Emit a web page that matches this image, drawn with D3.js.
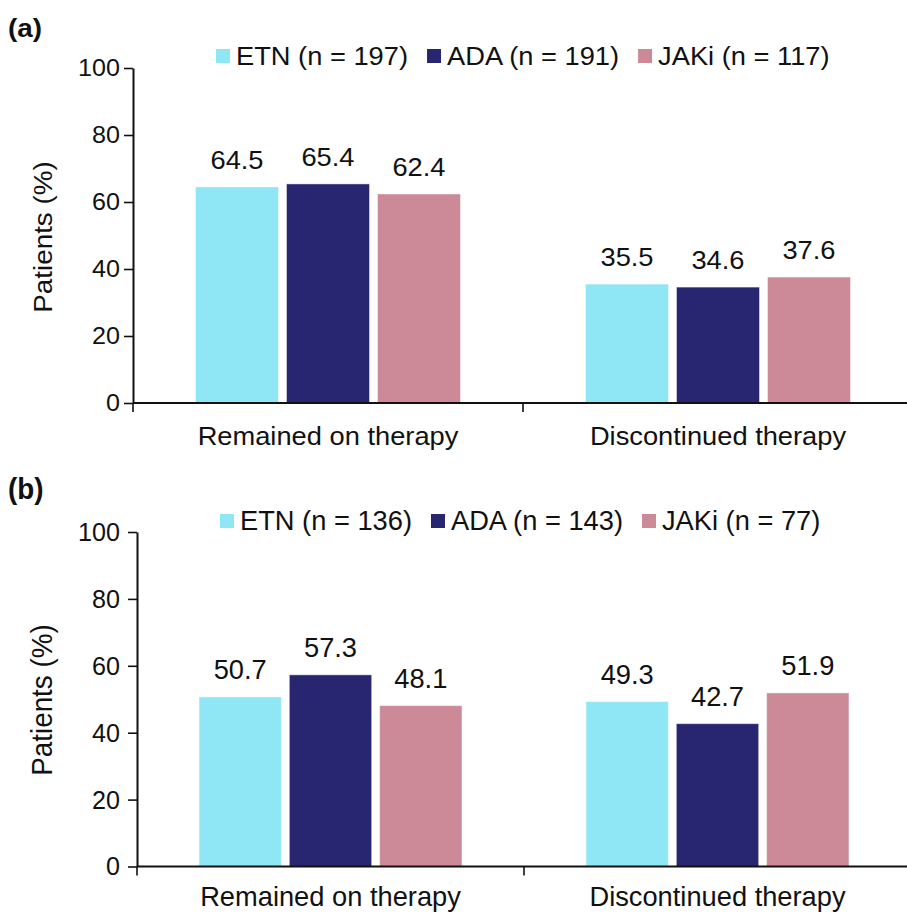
<!DOCTYPE html>
<html>
<head>
  <meta charset="utf-8">
  <title>Patients remaining on / discontinuing therapy</title>
  <style type="text/css">
    body { margin: 0; background: #fff; }
    svg { display: block; }
    text { font-family: "Liberation Sans", Arial, sans-serif; fill: #111; }
  </style>
</head>
<body>
  <script src="https://cdn.jsdelivr.net/npm/d3@7/dist/d3.min.js"></script>
  <script type="text/javascript">
    // data
    var categories = ["Remained on therapy", "Discontinued therapy"];
    var seriesNames = ["ETN", "ADA", "JAKi"];
    var colors = ["#8fe6f5", "#282670", "#cc8a98"];
    var yTicks = [0, 20, 40, 60, 80, 100];

    var nA = [197, 191, 117];
    var etnA = [64.5, 35.5];
    var adaA = [65.4, 34.6];
    var jakA = [62.4, 37.6];

    var nB = [136, 143, 77];
    var etnB = [50.7, 49.3];
    var adaB = [57.3, 42.7];
    var jakB = [48.1, 51.9];

    var w = 907, h = 914;
    var sx = 1.07;  // glyphs in the source are a bit wider than Arial

    var svg = d3.select("body").append("svg")
      .attr("width", w)
      .attr("height", h);

    // text helper: position + stretch
    function txt(g, x, y, s, size, sy, anchor) {
      return g.append("text")
        .attr("transform", "translate(" + x + "," + y + ") scale(" + sx + "," + sy + ")")
        .attr("font-size", size)
        .attr("text-anchor", anchor || "start")
        .text(s);
    }

    function panel(opt) {
      var g = svg.append("g");
      var rows = [opt.etn, opt.ada, opt.jak];

      var y = d3.scaleLinear().domain([0, 100]).range([opt.y0, opt.y100]);
      var x0 = d3.scaleBand().domain(categories).range([opt.left, opt.right]);
      var x1 = d3.scaleBand().domain(seriesNames)
        .range([0, x0.bandwidth()])
        .paddingInner(0.088)
        .paddingOuter(0.687);

      // panel letter
      txt(g, 8, opt.letterY, opt.letter, 26, opt.sy).attr("font-weight", "bold");

      // legend, laid out left to right
      var lx = opt.legendX;
      seriesNames.forEach(function(s, i) {
        g.append("rect")
          .attr("x", lx).attr("y", opt.legendY - 16)
          .attr("width", 14).attr("height", 14)
          .attr("fill", colors[i]);
        var t = txt(g, lx + 20, opt.legendY, s + " (n = " + opt.n[i] + ")", 25.5, opt.sy);
        lx += 20 + t.node().getComputedTextLength() * sx + 19;
      });

      // bars
      categories.forEach(function(c, ci) {
        seriesNames.forEach(function(s, si) {
          var v = rows[si][ci];
          var bx = x0(c) + x1(s);
          g.append("rect")
            .attr("x", bx)
            .attr("y", y(v))
            .attr("width", x1.bandwidth())
            .attr("height", y(0) - y(v))
            .attr("fill", colors[si])
            .attr("stroke", "#fff")
            .attr("stroke-opacity", 0.45)
            .attr("stroke-width", 1);
          txt(g, bx + x1.bandwidth() / 2, y(v) - 18, v.toFixed(1), 25.5, opt.sy, "middle");
        });
      });

      // y axis
      var ya = g.append("g")
        .attr("transform", "translate(" + opt.left + ",0)")
        .call(d3.axisLeft(y).tickValues(yTicks).tickSize(9).tickSizeOuter(0).tickPadding(opt.tickPad));
      ya.select(".domain").attr("stroke", "#111").attr("stroke-width", 2);
      ya.selectAll(".tick line").attr("stroke", "#111").attr("stroke-width", 1.6);
      ya.selectAll(".tick text")
        .attr("font-size", 23.5)
        .attr("font-family", null)
        .attr("fill", "#111")
        .attr("transform", "scale(" + sx + "," + opt.sy + ")")
        .attr("x", -(9 + opt.tickPad) / sx);

      // x axis: line, boundary ticks, centred labels
      g.append("line")
        .attr("x1", opt.left).attr("x2", w)
        .attr("y1", y(0)).attr("y2", y(0))
        .attr("stroke", "#111").attr("stroke-width", 2);
      categories.concat([null]).forEach(function(c) {
        var tx = c ? x0(c) : opt.right;
        g.append("line")
          .attr("x1", tx).attr("x2", tx)
          .attr("y1", y(0)).attr("y2", y(0) + 9)
          .attr("stroke", "#111").attr("stroke-width", 1.6);
      });
      categories.forEach(function(c) {
        txt(g, x0(c) + x0.bandwidth() / 2, opt.catY, c, 25.5, opt.sy, "middle");
      });

      // y title
      g.append("text")
        .attr("transform", "translate(52," + opt.titleY + ") rotate(-90) scale(" + sx + "," + opt.sy + ")")
        .attr("font-size", 26)
        .attr("text-anchor", "middle")
        .text("Patients (%)");
    }

    panel({
      letter: "(a)", letterY: 37, n: nA, etn: etnA, ada: adaA, jak: jakA,
      left: 133, right: 913, y0: 403, y100: 68, tickPad: 4,
      legendX: 216, legendY: 65, catY: 445, titleY: 237, sy: 1
    });

    panel({
      letter: "(b)", letterY: 499, n: nB, etn: etnB, ada: adaB, jak: jakB,
      left: 137, right: 911, y0: 866.5, y100: 532, tickPad: 8,
      legendX: 220, legendY: 530, catY: 906, titleY: 700, sy: 1.12
    });
  </script>
</body>
</html>
